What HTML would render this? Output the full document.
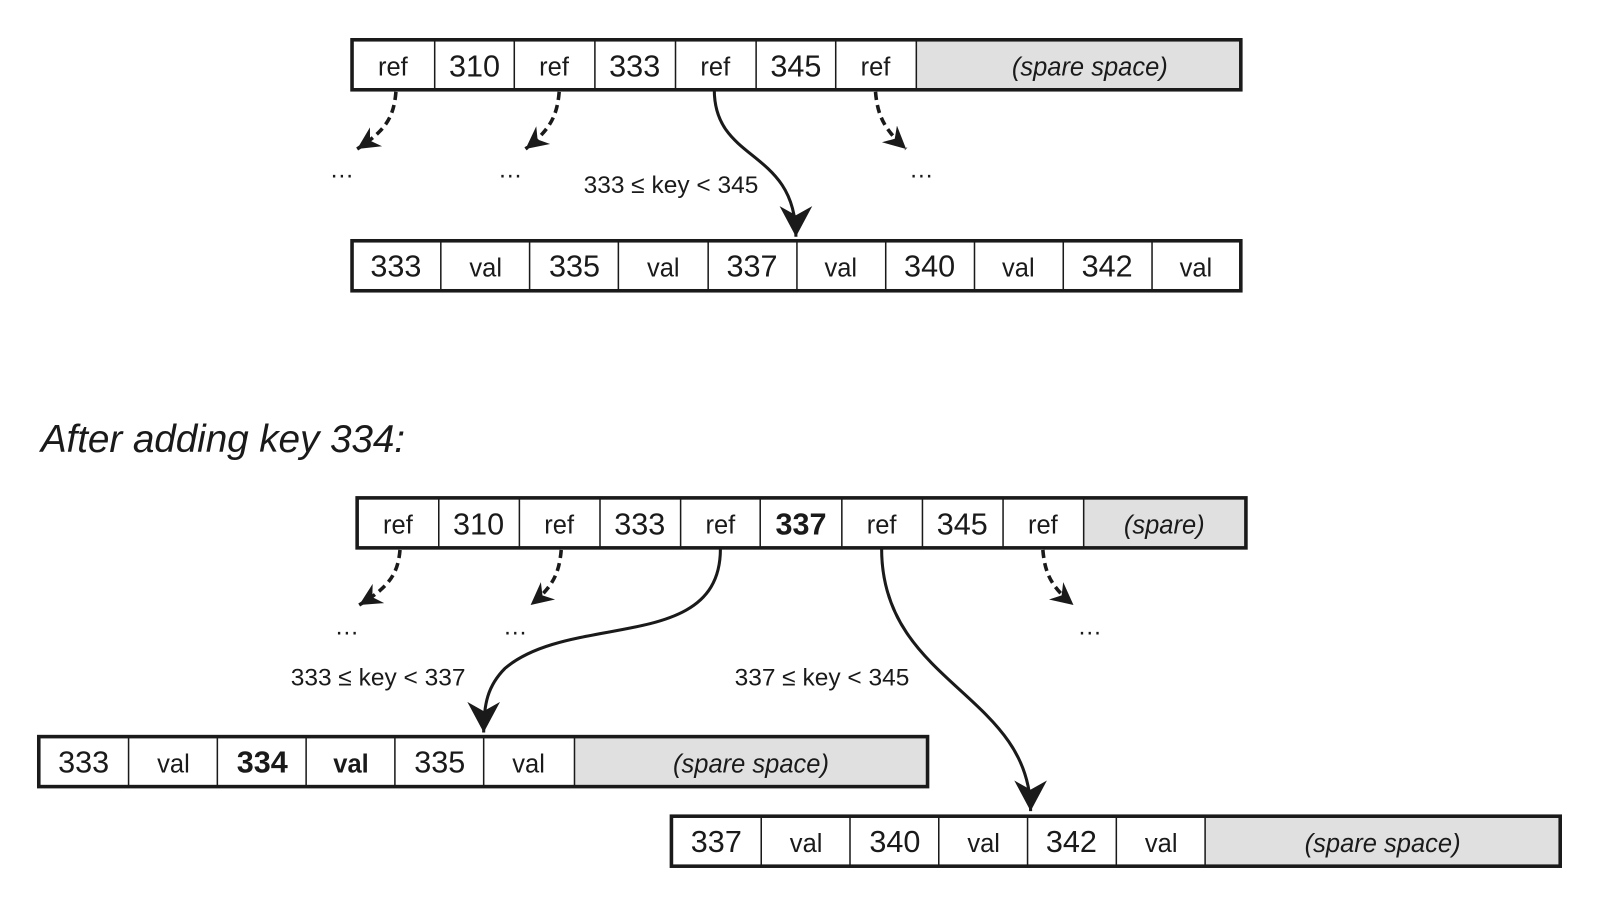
<!DOCTYPE html>
<html><head><meta charset="utf-8"><style>
html,body{margin:0;padding:0;background:#fff}
svg{display:block}
text{font-family:"Liberation Sans",sans-serif;fill:#1a1a1a}
.n{font-size:30px;text-anchor:middle}
.w{font-size:25px;text-anchor:middle}
.i{font-size:25px;font-style:italic;text-anchor:middle}
.l{font-size:24px}
.b{font-weight:bold}
.o{fill:none;stroke:#1a1a1a;stroke-width:3.5}
.d{stroke:#1a1a1a;stroke-width:1.5}
.c{fill:none;stroke:#1a1a1a;stroke-width:3}
.ds{fill:none;stroke:#1a1a1a;stroke-width:3.5;stroke-dasharray:8,5}
</style></head><body>
<svg width="1600" height="907" viewBox="0 0 1568 889" preserveAspectRatio="none" xmlns="http://www.w3.org/2000/svg">
<defs>
<marker id="a" markerUnits="userSpaceOnUse" markerWidth="40" markerHeight="40" refX="0" refY="0" viewBox="-30 -20 40 40" orient="auto">
<path d="M0,0 L-30,-16 L-21,0 L-30,16 Z" fill="#1a1a1a"/>
</marker>
<marker id="s" markerUnits="userSpaceOnUse" markerWidth="30" markerHeight="30" refX="0" refY="0" viewBox="-22 -15 30 30" orient="auto">
<path d="M0,0 L-22,-11 L-15,0 L-22,11 Z" fill="#1a1a1a"/>
</marker>
</defs>

<!-- TOP internal node -->
<rect x="898" y="39" width="318" height="49" fill="#e0e0e0"/>
<g class="d">
<line x1="426" y1="39" x2="426" y2="88"/><line x1="504" y1="39" x2="504" y2="88"/><line x1="583" y1="39" x2="583" y2="88"/><line x1="662" y1="39" x2="662" y2="88"/><line x1="741" y1="39" x2="741" y2="88"/><line x1="819" y1="39" x2="819" y2="88"/><line x1="898" y1="39" x2="898" y2="88"/>
</g>
<rect class="o" x="345" y="39" width="871" height="49"/>
<text class="w" x="385" y="74">ref</text><text class="n" x="465" y="75">310</text>
<text class="w" x="543" y="74">ref</text><text class="n" x="622" y="75">333</text>
<text class="w" x="701" y="74">ref</text><text class="n" x="780" y="75">345</text>
<text class="w" x="858" y="74">ref</text><text class="i" x="1068" y="74">(spare space)</text>

<!-- top arrows -->
<path class="ds" d="M388,90 C386,115 378,128 350,146" marker-end="url(#s)"/>
<path class="ds" d="M548,90 C546,115 538,128 515,146" marker-end="url(#s)"/>
<path class="ds" d="M858,90 C860,115 868,128 888,146" marker-end="url(#s)"/>
<path class="c" d="M700,88 C700,160 780,145 780,232" marker-end="url(#a)"/>
<text class="l" x="323" y="174">…</text><text class="l" x="488" y="174">…</text><text class="l" x="891" y="174">…</text>
<text class="l" x="572" y="189">333 ≤ key &lt; 345</text>

<!-- TOP leaf -->
<g class="d">
<line x1="432" y1="236" x2="432" y2="285"/><line x1="519" y1="236" x2="519" y2="285"/><line x1="606" y1="236" x2="606" y2="285"/><line x1="694" y1="236" x2="694" y2="285"/><line x1="781" y1="236" x2="781" y2="285"/><line x1="868" y1="236" x2="868" y2="285"/><line x1="955" y1="236" x2="955" y2="285"/><line x1="1042" y1="236" x2="1042" y2="285"/><line x1="1129" y1="236" x2="1129" y2="285"/>
</g>
<rect class="o" x="345" y="236" width="871" height="49"/>
<text class="n" x="388" y="271">333</text><text class="w" x="476" y="271">val</text>
<text class="n" x="563" y="271">335</text><text class="w" x="650" y="271">val</text>
<text class="n" x="737" y="271">337</text><text class="w" x="824" y="271">val</text>
<text class="n" x="911" y="271">340</text><text class="w" x="998" y="271">val</text>
<text class="n" x="1085" y="271">342</text><text class="w" x="1172" y="271">val</text>

<text x="40" y="443" style="font-size:38px;font-style:italic" textLength="357">After adding key 334:</text>

<!-- BOTTOM internal node -->
<rect x="1062" y="488" width="159" height="49" fill="#e0e0e0"/>
<g class="d">
<line x1="430" y1="488" x2="430" y2="537"/><line x1="509" y1="488" x2="509" y2="537"/><line x1="588" y1="488" x2="588" y2="537"/><line x1="667" y1="488" x2="667" y2="537"/><line x1="745" y1="488" x2="745" y2="537"/><line x1="825" y1="488" x2="825" y2="537"/><line x1="904" y1="488" x2="904" y2="537"/><line x1="983" y1="488" x2="983" y2="537"/><line x1="1062" y1="488" x2="1062" y2="537"/>
</g>
<rect class="o" x="350" y="488" width="871" height="49"/>
<text class="w" x="390" y="523">ref</text><text class="n" x="469" y="524">310</text>
<text class="w" x="548" y="523">ref</text><text class="n" x="627" y="524">333</text>
<text class="w" x="706" y="523">ref</text><text class="n b" x="785" y="524">337</text>
<text class="w" x="864" y="523">ref</text><text class="n" x="943" y="524">345</text>
<text class="w" x="1022" y="523">ref</text><text class="i" x="1141" y="523">(spare)</text>

<!-- bottom arrows -->
<path class="ds" d="M392,539 C390,562 382,575 352,593" marker-end="url(#s)"/>
<path class="ds" d="M550,539 C548,562 542,575 520,593" marker-end="url(#s)"/>
<path class="ds" d="M1022,539 C1024,562 1030,575 1052,593" marker-end="url(#s)"/>
<path class="c" d="M706,538 C706,640 560,600 495,655 C478,672 474,690 474,718" marker-end="url(#a)"/>
<path class="c" d="M864,538 C864,670 1010,680 1010,795" marker-end="url(#a)"/>
<text class="l" x="328" y="622">…</text><text class="l" x="493" y="622">…</text><text class="l" x="1056" y="622">…</text>
<text class="l" x="285" y="672">333 ≤ key &lt; 337</text>
<text class="l" x="720" y="672">337 ≤ key &lt; 345</text>

<!-- left leaf -->
<rect x="563" y="722" width="346" height="49" fill="#e0e0e0"/>
<g class="d">
<line x1="126" y1="722" x2="126" y2="771"/><line x1="213" y1="722" x2="213" y2="771"/><line x1="300" y1="722" x2="300" y2="771"/><line x1="387" y1="722" x2="387" y2="771"/><line x1="474" y1="722" x2="474" y2="771"/><line x1="563" y1="722" x2="563" y2="771"/>
</g>
<rect class="o" x="38" y="722" width="871" height="49"/>
<text class="n" x="82" y="757">333</text><text class="w" x="170" y="757">val</text>
<text class="n b" x="257" y="757">334</text><text class="w b" x="344" y="757">val</text>
<text class="n" x="431" y="757">335</text><text class="w" x="518" y="757">val</text>
<text class="i" x="736" y="757">(spare space)</text>

<!-- right leaf -->
<rect x="1181" y="800" width="348" height="49" fill="#e0e0e0"/>
<g class="d">
<line x1="746" y1="800" x2="746" y2="849"/><line x1="833" y1="800" x2="833" y2="849"/><line x1="920" y1="800" x2="920" y2="849"/><line x1="1007" y1="800" x2="1007" y2="849"/><line x1="1094" y1="800" x2="1094" y2="849"/><line x1="1181" y1="800" x2="1181" y2="849"/>
</g>
<rect class="o" x="658" y="800" width="871" height="49"/>
<text class="n" x="702" y="835">337</text><text class="w" x="790" y="835">val</text>
<text class="n" x="877" y="835">340</text><text class="w" x="964" y="835">val</text>
<text class="n" x="1050" y="835">342</text><text class="w" x="1138" y="835">val</text>
<text class="i" x="1355" y="835">(spare space)</text>
</svg>
</body></html>
